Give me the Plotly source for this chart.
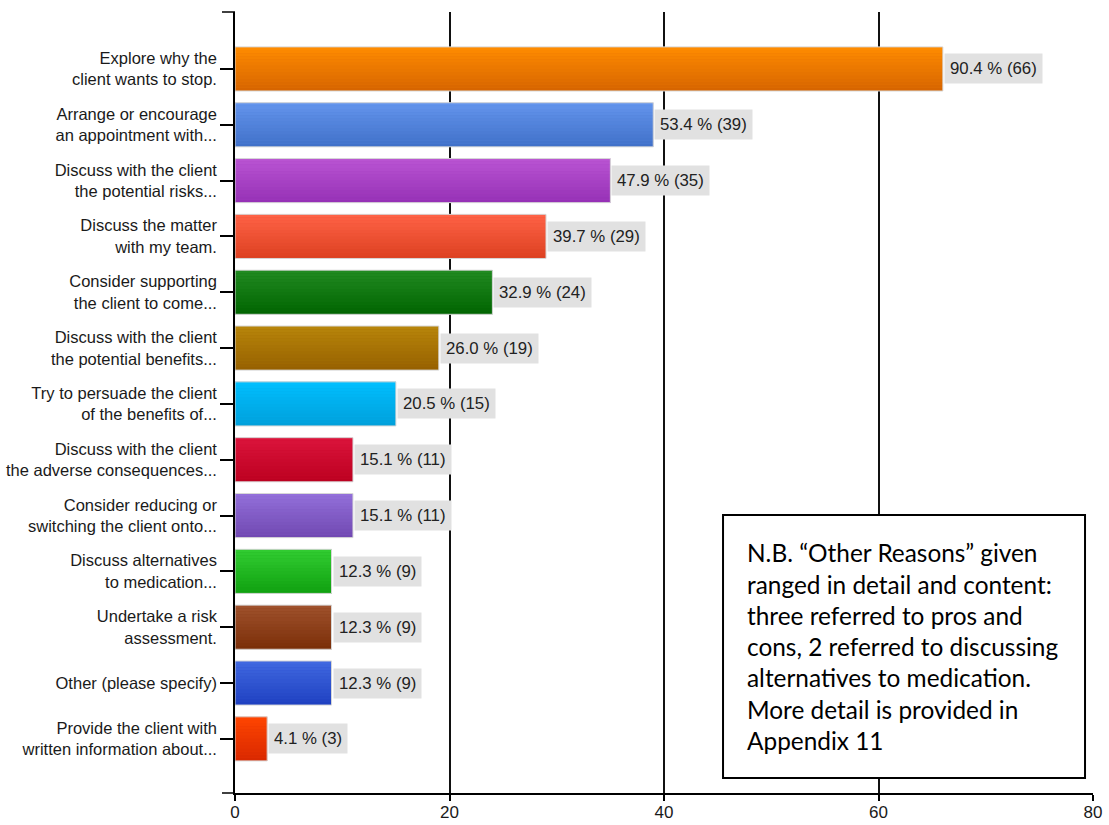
import plotly.graph_objects as go

# Survey responses: what respondents would do when a client wants to stop medication
categories = [
    "Explore why the<br>client wants to stop.",
    "Arrange or encourage<br>an appointment with...",
    "Discuss with the client<br>the potential risks...",
    "Discuss the matter<br>with my team.",
    "Consider supporting<br>the client to come...",
    "Discuss with the client<br>the potential benefits...",
    "Try to persuade the client<br>of the benefits of...",
    "Discuss with the client<br>the adverse consequences...",
    "Consider reducing or<br>switching the client onto...",
    "Discuss alternatives<br>to medication...",
    "Undertake a risk<br>assessment.",
    "Other (please specify)",
    "Provide the client with<br>written information about...",
]
counts = [66, 39, 35, 29, 24, 19, 15, 11, 11, 9, 9, 9, 3]
percents = [90.4, 53.4, 47.9, 39.7, 32.9, 26.0, 20.5, 15.1, 15.1, 12.3, 12.3, 12.3, 4.1]

x_ticks = [0, 20, 40, 60, 80]

# gradient end colours per bar (top edge, bottom edge)
top_colors = ["#FF8C00", "#6495ED", "#BA55D3", "#FF6347", "#228B22", "#B8860B", "#00BFFF",
              "#DC143C", "#9370DB", "#32CD32", "#A0522D", "#4169E1", "#FF4500"]
bottom_colors = ["#D66400", "#4070C8", "#9530B5", "#DC4020", "#006400", "#966000", "#009FDA",
                 "#BB0020", "#7048B0", "#10A010", "#7A2E08", "#1E40C0", "#D82800"]

note_lines = [
    "N.B. \u201cOther Reasons\u201d given",
    "ranged in detail and content:",
    "three referred to pros and",
    "cons, 2 referred to discussing",
    "alternatives to medication.",
    "More detail is provided in",
    "Appendix 11",
]


def hex_rgb(h):
    h = h.lstrip("#")
    return tuple(int(h[i:i + 2], 16) for i in (0, 2, 4))


def mix(c1, c2, t):
    a, b = hex_rgb(c1), hex_rgb(c2)
    return "rgb({},{},{})".format(*[round(a[i] * (1 - t) + b[i] * t) for i in range(3)])


positions = list(range(len(categories)))
BAR_W = 0.79
N_BANDS = 14

fig = go.Figure()

# base bar in the mid colour
fig.add_trace(go.Bar(
    x=counts, y=positions, orientation="h", width=BAR_W,
    marker=dict(color=[mix(a, b, 0.5) for a, b in zip(top_colors, bottom_colors)], line_width=0),
    hoverinfo="skip", showlegend=False,
))

# vertical gradient built from thin horizontal bands
band = BAR_W / N_BANDS
for k in range(N_BANDS):
    t = (k + 0.5) / N_BANDS
    fig.add_trace(go.Bar(
        x=counts, y=positions, orientation="h", width=band, offset=-BAR_W / 2 + k * band,
        marker=dict(color=[mix(a, b, t) for a, b in zip(top_colors, bottom_colors)], line_width=0),
        hoverinfo="skip", showlegend=False,
    ))

# light outline round each bar
fig.add_trace(go.Bar(
    x=counts, y=positions, orientation="h", width=BAR_W,
    marker=dict(color="rgba(0,0,0,0)", line=dict(color="rgba(215,215,215,1)", width=1)),
    hoverinfo="skip", showlegend=False,
))

# value labels on grey boxes
for i, (c, p) in enumerate(zip(counts, percents)):
    fig.add_annotation(
        x=c, y=i, xref="x", yref="y", text=f"{p:.1f} % ({c})",
        showarrow=False, xanchor="left", yanchor="middle", xshift=1,
        bgcolor="#E1E1E1", borderpad=5,
        font=dict(family="Liberation Sans", size=16.8, color="#222222"),
    )

# note box
box_x0, box_x1, box_y0, box_y1 = 0.5688, 0.9907, 0.0192, 0.356
fig.add_shape(type="rect", xref="paper", yref="paper",
              x0=box_x0, x1=box_x1, y0=box_y0, y1=box_y1,
              line=dict(color="black", width=2), fillcolor="white", layer="above")
line_step = 0.03995
for j, line in enumerate(note_lines):
    fig.add_annotation(
        x=0.5944, y=0.3073 - j * line_step, xref="paper", yref="paper",
        text=line, showarrow=False, xanchor="left", yanchor="middle",
        font=dict(family="Lato", size=24.4, color="black"),
    )

# category-boundary ticks at the top and bottom of the value axis
for yy in (0, 1):
    fig.add_shape(type="line", xref="paper", yref="paper",
                  x0=-13 / 858, x1=0, y0=yy, y1=yy,
                  line=dict(color="black", width=1.5), layer="above")

fig.update_layout(
    width=1109, height=825,
    margin=dict(l=235, r=16, t=12, b=32),
    paper_bgcolor="white", plot_bgcolor="white",
    barmode="overlay",
    font=dict(family="Liberation Sans", color="#1a1a1a"),
    xaxis=dict(
        range=[0, 80], tickvals=x_ticks, ticks="outside", ticklen=6, tickcolor="black",
        tickwidth=1.5, showline=True, linecolor="black", linewidth=1.5,
        showgrid=True, gridcolor="#111111", gridwidth=1.5, zeroline=False,
        tickfont=dict(size=17, color="#1a1a1a"), automargin=False, ticklabelstandoff=-3,
    ),
    yaxis=dict(
        range=[12.97, -1.02], tickvals=positions, ticktext=categories,
        ticks="outside", ticklen=13, tickcolor="black", tickwidth=1.5,
        showline=True, linecolor="black", linewidth=1.5, showgrid=False, zeroline=False,
        tickfont=dict(size=16.5, color="#1a1a1a"), automargin=False,
    ),
)

fig.write_html("out.html")
